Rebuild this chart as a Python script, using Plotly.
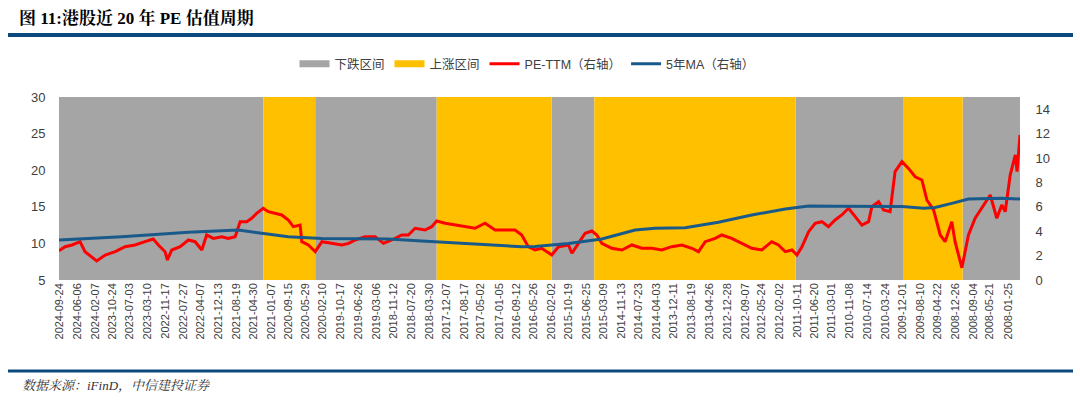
import plotly.graph_objects as go
import pandas as pd

# ---------------- data ----------------
tick_labels = ["2024-09-24","2024-06-06","2024-02-07","2023-10-24","2023-07-03","2023-03-10","2022-11-17",
               "2022-07-27","2022-04-07","2021-12-13","2021-08-19","2021-04-30","2021-01-07","2020-09-15",
               "2020-05-29","2020-02-10","2019-10-17","2019-06-26","2019-03-06","2018-11-12","2018-07-20",
               "2018-03-30","2017-12-07","2017-08-17","2017-05-02","2017-01-05","2016-09-12","2016-05-26",
               "2016-02-02","2015-10-19","2015-06-25","2015-03-09","2014-11-13","2014-07-23","2014-04-03",
               "2013-12-11","2013-08-19","2013-04-26","2012-12-28","2012-09-07","2012-05-24","2012-02-02",
               "2011-10-11","2011-06-20","2011-03-01","2010-11-08","2010-07-14","2010-03-24","2009-12-01",
               "2009-08-10","2009-04-22","2008-12-26","2008-09-04","2008-05-21","2008-01-25"]

down_start = ["2021-02-26", "2018-02-09", "2015-05-04", "2009-11-29", "2007-11-09"]
down_end   = ["2024-09-30", "2020-03-30", "2016-02-02", "2011-10-19", "2008-11-11"]
up_start   = ["2020-03-30", "2016-02-02", "2011-10-19", "2008-11-11"]
up_end     = ["2021-02-26", "2018-02-09", "2015-05-04", "2009-11-29"]

pe_dates = ["2024-09-30","2024-08-22","2024-07-08","2024-05-18","2024-04-16","2024-03-04","2024-02-01","2023-12-08","2023-10-05","2023-08-03",
            "2023-05-31","2023-03-28","2023-02-03","2023-01-01","2022-11-19","2022-11-04","2022-10-07","2022-08-14","2022-06-22","2022-05-10",
            "2022-03-28","2022-02-25","2022-01-13","2021-11-20","2021-10-09","2021-08-26","2021-07-25","2021-06-13","2021-05-12","2021-04-10",
            "2021-02-27","2021-01-25","2020-12-13","2020-10-31","2020-09-19","2020-08-18","2020-07-05","2020-06-24","2020-05-13","2020-03-30",
            "2020-02-16","2019-12-13","2019-10-10","2019-08-29","2019-07-17","2019-05-15","2019-03-11","2019-01-17","2018-11-24","2018-09-21",
            "2018-08-10","2018-06-28","2018-04-25","2018-03-13","2018-02-09","2017-12-17","2017-10-14","2017-08-11","2017-06-08","2017-04-05",
            "2017-01-30","2016-11-27","2016-09-24","2016-08-12","2016-07-01","2016-05-19","2016-04-06","2016-02-01","2015-12-20","2015-10-17",
            "2015-09-25","2015-08-14","2015-07-02","2015-05-20","2015-04-18","2015-03-17","2015-01-12","2014-11-08","2014-09-05","2014-07-03",
            "2014-04-30","2014-02-25","2013-12-23","2013-10-19","2013-08-16","2013-07-04","2013-05-22","2013-03-19","2013-02-05","2012-12-03",
            "2012-09-30","2012-07-27","2012-05-24","2012-03-21","2012-02-07","2011-12-25","2011-11-12","2011-10-11","2011-09-09","2011-07-28",
            "2011-06-16","2011-05-04","2011-03-23","2011-02-08","2010-12-27","2010-11-14","2010-10-02","2010-08-20","2010-07-08","2010-06-17",
            "2010-05-05","2010-04-03","2010-02-20","2010-01-19","2009-12-06","2009-10-25","2009-09-12","2009-07-31","2009-06-29","2009-05-17",
            "2009-04-04","2009-03-04","2009-01-20","2008-12-30","2008-11-16","2008-10-05","2008-08-23","2008-07-11","2008-05-18","2008-04-06",
            "2008-03-05","2008-02-12","2008-01-11","2007-12-09","2007-11-28","2007-11-09"]
pe_values = [2.40, 2.73, 2.87, 3.14, 2.32, 1.91, 1.56, 2.05, 2.32, 2.73,
             2.87, 3.14, 3.36, 2.87, 2.32, 1.64, 2.46, 2.73, 3.28, 3.14,
             2.46, 3.69, 3.41, 3.55, 3.41, 3.55, 4.78, 4.78, 5.06, 5.46,
             5.88, 5.60, 5.46, 5.33, 4.92, 4.37, 4.50, 3.14, 2.87, 2.32,
             3.14, 3.00, 2.87, 3.00, 3.28, 3.55, 3.55, 3.00, 3.28, 3.69,
             3.69, 4.24, 4.10, 4.37, 4.84, 4.65, 4.50, 4.37, 4.24, 4.65,
             4.10, 4.10, 4.10, 3.69, 2.73, 2.46, 2.60, 2.05, 2.73, 2.87,
             2.19, 3.00, 3.83, 4.02, 3.69, 3.00, 2.60, 2.46, 2.87, 2.60,
             2.60, 2.46, 2.73, 2.87, 2.60, 2.32, 3.14, 3.41, 3.69, 3.41,
             3.00, 2.60, 2.46, 3.14, 2.87, 2.32, 2.46, 2.05, 2.73, 3.96,
             4.65, 4.78, 4.37, 4.92, 5.33, 5.88, 5.19, 4.50, 4.78, 6.01,
             6.42, 5.74, 5.60, 8.88, 9.70, 9.15, 8.46, 8.20, 6.56, 5.74,
             3.69, 3.14, 4.78, 3.14, 1.00, 3.69, 5.06, 5.88, 6.97, 5.06,
             6.15, 5.60, 8.60, 10.25, 8.88, 11.88]

ma_dates = ["2024-09-30","2023-08-24","2022-06-22","2021-08-05","2021-03-09","2020-09-19","2020-02-16","2019-07-17",
            "2018-12-16","2018-05-16","2017-10-14","2017-03-14","2016-08-12","2016-05-19","2015-10-17","2015-03-17",
            "2014-08-15","2014-04-09","2013-09-28","2013-02-26","2012-07-27","2011-12-25","2011-07-28","2011-02-08",
            "2010-07-08","2009-12-06","2009-07-20","2009-05-07","2009-01-20","2008-10-05","2008-03-05","2007-11-09"]
ma_values = [3.28, 3.55, 3.91, 4.10, 3.83, 3.55, 3.41, 3.41,
             3.36, 3.20, 3.06, 2.87, 2.73, 2.75, 3.00, 3.36,
             4.10, 4.24, 4.29, 4.73, 5.33, 5.82, 6.07, 6.05,
             6.03, 6.02, 5.88, 5.94, 6.28, 6.64, 6.70, 6.64]

x_range = ["2024-09-30", "2007-11-09"]

GRAY = "#A5A5A5"
YELLOW = "#FFC000"
RED = "#FF0000"
BLUE = "#1A5A8A"
RULE = "#0C4A7E"


def band_bars(starts, ends):
    s = pd.to_datetime(starts)
    e = pd.to_datetime(ends)
    mids = s + (e - s) / 2
    widths = [(b - a).total_seconds() * 1000 for a, b in zip(s, e)]
    return mids, widths


fig = go.Figure()

# legend-only entries for the bands (wide flat rectangles as in reference)
fig.add_trace(go.Scatter(x=[None], y=[None], mode="lines", name="下跌区间",
                         line=dict(color=GRAY, width=7), legendgroup="down"))
fig.add_trace(go.Scatter(x=[None], y=[None], mode="lines", name="上涨区间",
                         line=dict(color=YELLOW, width=7), legendgroup="up"))

dm, dw = band_bars(down_start, down_end)
fig.add_trace(go.Bar(x=dm, y=[25] * len(dw), base=5, width=dw, marker=dict(color=GRAY, line=dict(width=0)),
                     showlegend=False, legendgroup="down", yaxis="y", hoverinfo="skip"))
um, uw = band_bars(up_start, up_end)
fig.add_trace(go.Bar(x=um, y=[25] * len(uw), base=5, width=uw, marker=dict(color=YELLOW, line=dict(width=0)),
                     showlegend=False, legendgroup="up", yaxis="y", hoverinfo="skip"))

fig.add_trace(go.Scatter(x=pd.to_datetime(pe_dates), y=pe_values, mode="lines", name="PE-TTM（右轴）",
                         line=dict(color=RED, width=3), yaxis="y2"))
fig.add_trace(go.Scatter(x=pd.to_datetime(ma_dates), y=ma_values, mode="lines", name="5年MA（右轴）",
                         line=dict(color=BLUE, width=3), yaxis="y2"))

tick_font = dict(family="Liberation Sans, Arial, sans-serif", size=13, color="#404040")

fig.update_layout(
    width=1080, height=404, autosize=False,
    margin=dict(l=59, r=60, t=97, b=124),
    paper_bgcolor="white", plot_bgcolor="white",
    barmode="overlay",
    showlegend=True,
    legend=dict(orientation="h", x=0.487, xanchor="center", y=1.18, yanchor="middle",
                font=dict(family="Liberation Sans, Noto Sans CJK SC, sans-serif", size=12.5, color="#404040"),
                itemwidth=30, bgcolor="rgba(0,0,0,0)", traceorder="normal"),
    title=dict(text="<b>图 11:港股近 20 年 PE 估值周期</b>", xref="container", yref="container",
               x=19 / 1080, xanchor="left", y=1 - 18 / 404, yanchor="middle",
               font=dict(family="Liberation Serif, Noto Serif CJK SC, Noto Sans CJK SC, serif", size=17, color="#000000")),
    xaxis=dict(type="date", range=x_range, tickmode="array",
               tickvals=pd.to_datetime(tick_labels), ticktext=tick_labels,
               tickangle=-90, ticks="", showgrid=False, zeroline=False, showline=False,
               tickfont=dict(family="Liberation Sans, Arial, sans-serif", size=11, color="#404040")),
    yaxis=dict(range=[5, 30], tickvals=[5, 10, 15, 20, 25, 30], showgrid=False, zeroline=False,
               ticks="outside", ticklen=10, tickcolor="rgba(0,0,0,0)", tickfont=tick_font),
    yaxis2=dict(range=[0, 15], tickvals=[0, 2, 4, 6, 8, 10, 12, 14], overlaying="y", side="right",
                showgrid=False, zeroline=False, ticks="outside", ticklen=12, tickcolor="rgba(0,0,0,0)",
                tickfont=tick_font),
)

# title / footer rules
fig.add_shape(type="line", xref="paper", yref="paper", x0=(8 - 59) / 961, x1=(1073 - 59) / 961,
              y0=1 + (97 - 35) / 183, y1=1 + (97 - 35) / 183, line=dict(color=RULE, width=4))
fig.add_shape(type="line", xref="paper", yref="paper", x0=(8 - 59) / 961, x1=(1073 - 59) / 961,
              y0=(280 - 371) / 183, y1=(280 - 371) / 183, line=dict(color=RULE, width=3))

fig.add_annotation(text="<i>数据来源：iFinD，中信建投证券</i>", xref="paper", yref="paper",
                   x=(20 - 59) / 961, xanchor="left", y=(280 - 385) / 183, yanchor="middle",
                   showarrow=False,
                   font=dict(family="Liberation Serif, Noto Serif CJK SC, Noto Sans CJK SC, serif", size=13, color="#333333"))

fig.write_html("out.html")
